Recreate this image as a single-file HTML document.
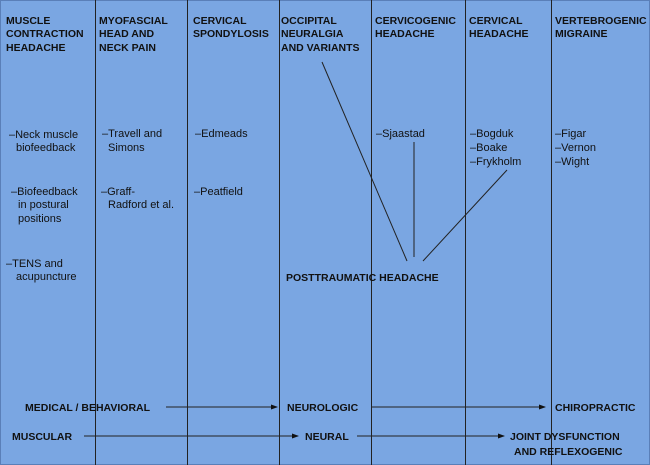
<!DOCTYPE html>
<html><head><meta charset="utf-8"><style>
html,body{margin:0;padding:0;background:#7aa6e2}
svg{display:block}
text{font-family:"Liberation Sans",Arial,sans-serif;font-size:11px;fill:#111}
.b{font-weight:bold;font-size:10.5px}
</style></head><body>
<svg width="650" height="465" viewBox="0 0 650 465" xmlns="http://www.w3.org/2000/svg">
<defs><marker id="a" markerWidth="7" markerHeight="6" refX="6" refY="3" orient="auto" markerUnits="userSpaceOnUse"><path d="M0,0.5 L7,3 L0,5.5z" fill="#111"/></marker></defs>
<rect x="0" y="0" width="650" height="465" fill="#7aa6e2"/>
<rect x="0.5" y="0.5" width="649" height="464" fill="none" stroke="#5a7fb8" stroke-width="1"/>
<g stroke="#222" stroke-width="1">
<line x1="95.5" y1="0" x2="95.5" y2="465"/>
<line x1="187.5" y1="0" x2="187.5" y2="465"/>
<line x1="279.5" y1="0" x2="279.5" y2="465"/>
<line x1="371.5" y1="0" x2="371.5" y2="465"/>
<line x1="465.5" y1="0" x2="465.5" y2="465"/>
<line x1="551.5" y1="0" x2="551.5" y2="465"/>
<line x1="322" y1="62" x2="407" y2="261"/>
<line x1="414" y1="142" x2="414" y2="257"/>
<line x1="507" y1="170" x2="423" y2="261"/>
<line x1="166" y1="407" x2="277" y2="407" marker-end="url(#a)"/>
<line x1="372" y1="407" x2="545" y2="407" marker-end="url(#a)"/>
<line x1="84" y1="436" x2="298" y2="436" marker-end="url(#a)"/>
<line x1="357" y1="436" x2="504" y2="436" marker-end="url(#a)"/>
</g>
<g>
<text class="b" x="6" y="24">MUSCLE</text><text class="b" x="6" y="37">CONTRACTION</text><text class="b" x="6" y="51">HEADACHE</text>
<text class="b" x="99" y="24">MYOFASCIAL</text><text class="b" x="99" y="37">HEAD AND</text><text class="b" x="99" y="51">NECK PAIN</text>
<text class="b" x="193" y="24">CERVICAL</text><text class="b" x="193" y="37">SPONDYLOSIS</text>
<text class="b" x="281" y="24">OCCIPITAL</text><text class="b" x="281" y="37">NEURALGIA</text><text class="b" x="281" y="51">AND VARIANTS</text>
<text class="b" x="375" y="24">CERVICOGENIC</text><text class="b" x="375" y="37">HEADACHE</text>
<text class="b" x="469" y="24">CERVICAL</text><text class="b" x="469" y="37">HEADACHE</text>
<text class="b" x="555" y="24">VERTEBROGENIC</text><text class="b" x="555" y="37">MIGRAINE</text>
<text class="b" x="286" y="281">POSTTRAUMATIC HEADACHE</text>
<text class="b" x="25" y="411">MEDICAL / BEHAVIORAL</text>
<text class="b" x="287" y="411">NEUROLOGIC</text>
<text class="b" x="555" y="411">CHIROPRACTIC</text>
<text class="b" x="12" y="440">MUSCULAR</text>
<text class="b" x="305" y="440">NEURAL</text>
<text class="b" x="510" y="440">JOINT DYSFUNCTION</text>
<text class="b" x="514" y="455">AND REFLEXOGENIC</text>
</g>
<text x="9" y="138">–Neck muscle</text><text x="16" y="151">biofeedback</text>
<text x="11" y="195">–Biofeedback</text><text x="18" y="208">in postural</text><text x="18" y="222">positions</text>
<text x="6" y="267">–TENS and</text><text x="16" y="280">acupuncture</text>
<text x="102" y="137">–Travell and</text><text x="108" y="151">Simons</text>
<text x="101" y="195">–Graff-</text><text x="108" y="208">Radford et al.</text>
<text x="195" y="137">–Edmeads</text>
<text x="194" y="195">–Peatfield</text>
<text x="376" y="137">–Sjaastad</text>
<text x="470" y="137">–Bogduk</text><text x="470" y="151">–Boake</text><text x="470" y="165">–Frykholm</text>
<text x="555" y="137">–Figar</text><text x="555" y="151">–Vernon</text><text x="555" y="165">–Wight</text>
</svg>
</body></html>
